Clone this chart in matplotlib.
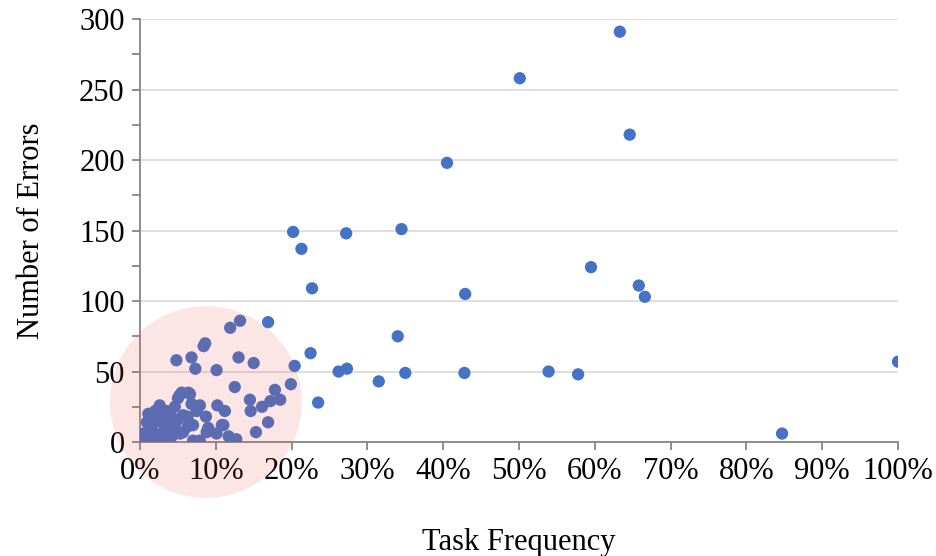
import matplotlib
matplotlib.use('Agg')
import matplotlib.pyplot as plt
from matplotlib.patches import Ellipse
from matplotlib.ticker import PercentFormatter, MultipleLocator

plt.rcParams['font.family'] = ['Liberation Serif', 'DejaVu Serif']

# task frequency (percent) and number of errors
freq_pct = [100, 84.7, 63.3, 64.6, 50.1, 40.5, 59.5, 65.8, 66.6, 42.9,
            34.5, 27.2, 20.2, 21.3, 22.7, 34.0, 22.5, 27.3, 26.2, 31.5,
            35.0, 42.8, 53.9, 57.8, 23.5, 20.4, 16.9,
            13.2, 11.9, 8.6, 8.4, 4.8, 6.8, 7.3, 10.1, 13.0, 15.0,
            19.9, 17.8, 18.5, 17.2, 16.1, 14.5, 14.6, 16.9, 15.3, 12.5,
            10.2, 11.2, 11.0, 11.7, 12.7, 10.1, 9.0, 8.7, 7.9, 6.8,
            5.5, 6.4, 5.0, 4.6, 5.7, 6.3, 7.0, 6.3, 7.0, 7.9,
            5.3, 4.2, 3.7, 2.6, 2.6, 3.5, 2.0, 1.1, 0.9, 1.8,
            2.9, 4.0, 4.6, 1.8, 0.4, 0.2, 0.9, 1.3, 3.1, 5.7,
            8.8, 10.8, 5.2, 6.6, 3.0, 4.0, 1.5, 2.3, 3.5, 5.0, 7.5]
errors = [57, 6, 291, 218, 258, 198, 124, 111, 103, 105,
          151, 148, 149, 137, 109, 75, 63, 52, 50, 43,
          49, 49, 50, 48, 28, 54, 85,
          86, 81, 70, 68, 58, 60, 52, 51, 60, 56,
          41, 37, 30, 29, 25, 30, 22, 14, 7, 39,
          26, 22, 12, 4, 2, 6, 10, 18, 26, 27,
          35, 35, 31, 25, 19, 18, 12, 11, 1, 1,
          6, 4, 0, 1, 26, 22, 22, 20, 14, 14,
          14, 13, 12, 7, 6, 3, 0, 1, 7, 7,
          7, 12, 33, 34, 18, 20, 10, 4, 10, 16, 22]
freq = [v / 100 for v in freq_pct]

fig = plt.figure(figsize=(9.37, 5.56), dpi=100)
ax = fig.add_axes([0.1494, 0.205, 0.8090, 0.7608])

ax.scatter(freq, errors, s=78, color='#4472C4', edgecolors='none', zorder=3)

# highlight of the dense low-frequency cluster
ax.add_patch(Ellipse((0.087, 28.4), 0.253, 136, facecolor='#F04848',
                     alpha=0.14, edgecolor='none', zorder=5, clip_on=False))

ax.set_xlim(0, 1.0)
ax.set_ylim(0, 300)
ax.xaxis.set_major_locator(MultipleLocator(0.1))
ax.xaxis.set_major_formatter(PercentFormatter(1.0, decimals=0))
ax.yaxis.set_major_locator(MultipleLocator(50))
ax.yaxis.set_minor_locator(MultipleLocator(25))

ax.grid(axis='y', which='major', color='#D9D9D9', linewidth=1.2, zorder=0)
ax.set_axisbelow(True)
for s in ['top', 'right']:
    ax.spines[s].set_visible(False)
for s in ['left', 'bottom']:
    ax.spines[s].set_color('#868686')
    ax.spines[s].set_linewidth(1.3)

ax.tick_params(axis='both', which='both', direction='out', color='#868686',
               width=1.3, labelsize=22)
ax.tick_params(axis='x', length=6, pad=5)
ax.tick_params(axis='y', which='major', length=6, pad=5)
ax.tick_params(axis='y', which='minor', length=6)

ax.set_xlabel('Task Frequency', fontsize=22, labelpad=30)
ax.set_ylabel('Number of Errors', fontsize=22, labelpad=24)

fig.savefig('out.png', dpi=100)
